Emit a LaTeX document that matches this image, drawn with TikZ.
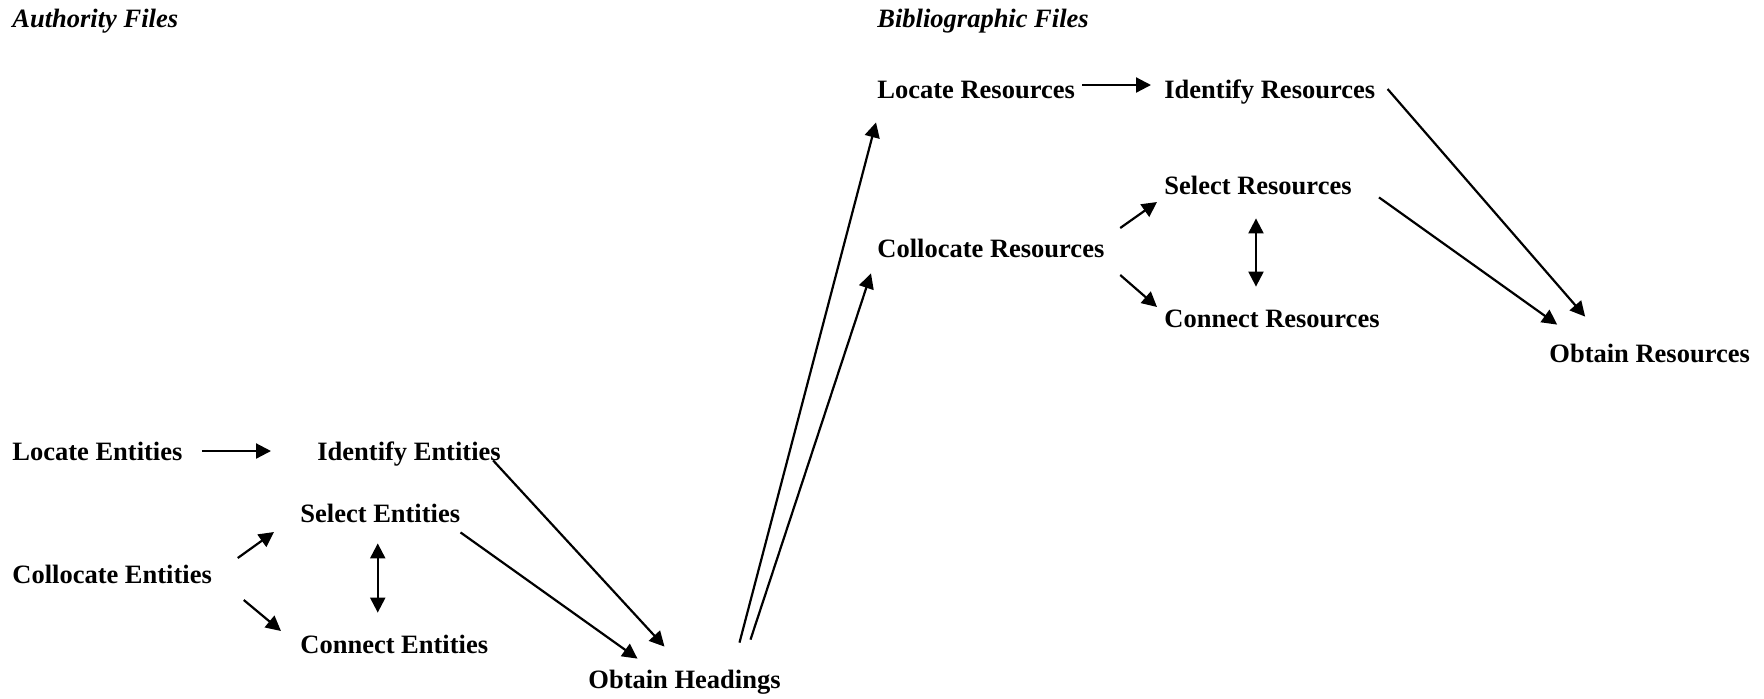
\documentclass[tikz,border=0pt]{standalone}
\usepackage{fontspec}
\setmainfont{Liberation Serif}
\usepackage{tikz}
\usetikzlibrary{arrows.meta}

\begin{document}
\begin{tikzpicture}[x=0.5pt, y=-0.5pt, >={Triangle[length=7.5pt, width=7.5pt]},
        task/.style={anchor=base west, inner sep=0pt, text height=9pt, text depth=0pt,
            font=\fontsize{13.25pt}{15pt}\selectfont\bfseries},
        filehead/.style={task, font=\fontsize{13.25pt}{15pt}\selectfont\bfseries\itshape},
        flow/.style={->, line width=1.1pt}]
        \useasboundingbox (0,0) rectangle (1764,698);

        % Headings
        \node (AF) at (12,27) [filehead] {Authority Files};
        \node (BF) at (877,27) [filehead] {Bibliographic Files};

        % Authority nodes
        \node (LocE) at (12,460) [task] {Locate Entities};
        \node (IdE) at (317,460) [task] {Identify Entities};
        \node (SelE) at (300,522) [task] {Select Entities};
        \node (ColE) at (12,583) [task] {Collocate Entities};
        \node (ConE) at (300,653) [task] {Connect Entities};
        \node (ObH) at (588,688) [task] {Obtain Headings};

        % Bibliographic nodes
        \node (LocR) at (877,98) [task] {Locate Resources};
        \node (IdR) at (1164,98) [task] {Identify Resources};
        \node (SelR) at (1164,194) [task] {Select Resources};
        \node (ColR) at (877,257) [task] {Collocate Resources};
        \node (ConR) at (1164,327) [task] {Connect Resources};
        \node (ObR) at (1549,362) [task] {Obtain Resources};

        % Arrows (authority)
        \draw[flow] ([xshift=9.5pt]LocE.east) -- ([xshift=-23pt]IdE.west);
        \draw[flow] ([xshift=12.75pt, yshift=8pt]ColE.east) -- ([xshift=-13pt, yshift=-9.5pt]SelE.west);
        \draw[flow] ([xshift=15.75pt, yshift=-13pt]ColE.east) -- ([xshift=-9.5pt, yshift=6.5pt]ConE.west);
        \draw[flow, <->] ([xshift=-1.25pt, yshift=-10.5pt]SelE.south) -- ([xshift=-1.25pt, yshift=11pt]SelE.south |- ConE.north);
        \draw[flow] ([xshift=-4pt]IdE.south east) -- ([xshift=-10pt, yshift=11.5pt]ObH.north);
        \draw[flow] ([yshift=-5pt]SelE.south east) -- ([xshift=-23.5pt, yshift=5.5pt]ObH.north);

        % Arrows from headings up to the resources
        \draw[flow] ([xshift=27.5pt, yshift=13.5pt]ObH.north) -- ([xshift=-0.5pt, yshift=-12pt]LocR.south west);
        \draw[flow] ([xshift=33pt, yshift=15pt]ObH.north) -- ([xshift=-3pt, yshift=-8pt]ColR.south west);

        % Arrows (bibliographic)
        \draw[flow] ([xshift=3.5pt, yshift=2pt]LocR.east) -- ([xshift=-6.5pt, yshift=2pt]IdR.west);
        \draw[flow] ([xshift=7.75pt, yshift=10pt]ColR.east) -- ([xshift=-3.5pt, yshift=-8.5pt]SelR.west);
        \draw[flow] ([xshift=7.75pt, yshift=-13.5pt]ColR.east) -- ([xshift=-3.5pt, yshift=5.5pt]ConR.west);
        \draw[flow, <->] ([xshift=-1pt, yshift=-12pt]SelR.south) -- ([xshift=-1pt, yshift=11pt]SelR.south |- ConR.north);
        \draw[flow] ([xshift=6pt]IdR.east) -- ([xshift=-32.25pt, yshift=13.5pt]ObR.north);
        \draw[flow] ([xshift=13.5pt, yshift=-1.5pt]SelR.south east) -- ([xshift=-46.25pt, yshift=9.5pt]ObR.north);

    \end{tikzpicture}
\end{document}
